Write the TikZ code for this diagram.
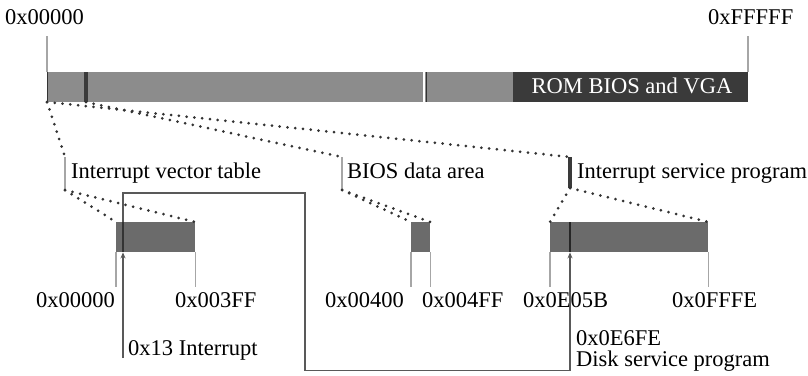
\documentclass[tikz,border=0pt]{standalone}
\usepackage{fontspec}
\setmainfont{Liberation Serif}
\usetikzlibrary{arrows.meta}
\definecolor{bargray}{HTML}{8C8C8C}
\definecolor{romgray}{HTML}{3A3A3A}
\definecolor{boxgray}{HTML}{6B6B6B}

\begin{document}
\begin{tikzpicture}[x=1pt, y=-1pt, font=\fontsize{22.5}{26}\selectfont,
  dots/.style={draw=black!80, line width=3pt, line cap=round, dash pattern=on 0pt off 7.8pt},
  tick/.style={draw=black!35, line width=1.4pt},
  link/.style={draw=black!65, line width=1.3pt},
  lbl/.style={inner sep=0pt, anchor=base west},
  blk/.style={inner sep=0pt, anchor=north west, minimum height=30pt}]
\useasboundingbox (0,0) rectangle (808,375);

% memory map
\node[blk, fill=bargray, minimum width=701pt] (mem) at (47,72) {};
\node[blk, fill=romgray, minimum width=235pt] (rom) at (513,72) {};
\node[inner sep=0pt, anchor=base, text=white] (romtext) at (632,93) {ROM BIOS and VGA};
\draw[draw=black!80, line width=1pt] (47,72) -- (47,102);
\draw[draw=romgray, line width=4pt] (86,72) -- (86,102);
\draw[draw=white, line width=2pt] (424,72) -- (424,102);
\draw[draw=black!80, line width=1pt] (426.5,72) -- (426.5,102);
\draw[tick] (47,36) -- (47,72);
\draw[tick] (748,36) -- (748,72);
\node[lbl] (lo) at (5,24) {0x00000};
\node[lbl] (hi) at (708,24) {0xFFFFF};

% regions
\node[blk, fill=boxgray, minimum width=79pt] (ivt) at (116,222) {};
\node[blk, fill=boxgray, minimum width=19pt] (bda) at (411,222) {};
\node[blk, fill=boxgray, minimum width=158pt] (isp) at (550,222) {};

\coordinate (ivttop) at (65,157);
\coordinate (ivtbot) at (65,190);
\coordinate (bdatop) at (342,157);
\coordinate (bdabot) at (342,190);
\coordinate (isptop) at (570,157);
\coordinate (ispbot) at (570,188);
\draw[tick] (ivttop) -- (ivtbot);
\draw[tick] (bdatop) -- (bdabot);
\draw[draw=romgray, line width=3.5pt] (isptop) -- (ispbot);
\node[lbl] (ivtlbl) at (71,178) {Interrupt vector table};
\node[lbl] (bdalbl) at (347,178) {BIOS data area};
\node[lbl] (isplbl) at (577,178) {Interrupt service program};

\draw[dots] (47,102) -- (ivttop);
\draw[dots] (86,102) -- (bdatop);
\draw[dots] (47,102) -- (isptop);
\draw[dots] (ivtbot) -- (ivt.north west);
\draw[dots] (ivtbot) -- (ivt.north east);
\draw[dots] (bdabot) -- (bda.north west);
\draw[dots] (bdabot) -- (bda.north east);
\draw[dots] (ispbot) -- (isp.north west);
\draw[dots] (ispbot) -- (isp.north east);

% addresses
\draw[tick] (ivt.south west) -- ++(0,35);
\draw[tick] (ivt.south east) -- ++(0,35);
\draw[tick] (bda.south west) -- ++(0,35);
\draw[tick] (bda.south east) -- ++(0,35);
\draw[tick] (isp.south west) -- ++(0,35);
\draw[tick] (isp.south east) -- ++(0,35);
\node[inner sep=0pt, anchor=base east] (a0) at (115,307) {0x00000};
\node[lbl] (a1) at (175,307) {0x003FF};
\node[inner sep=0pt, anchor=base east] (a2) at (404,307) {0x00400};
\node[lbl] (a3) at (422,307) {0x004FF};
\node[lbl] (a4) at (523,307) {0x0E05B};
\node[lbl] (a5) at (672,307) {0x0FFFE};

% interrupt 0x13
\coordinate (vec) at (123,222);
\coordinate (disk) at (570,222);
\coordinate (int) at (123,358);
\draw[draw=black!80, line width=1.3pt] (vec) -- ++(0,30);
\draw[draw=black!85, line width=2.5pt] (disk) -- ++(0,30);
\draw[link, -{Stealth[length=6pt, width=5pt]}] (int) -- (ivt.south -| vec);
\draw[link, -{Stealth[length=6pt, width=5pt]}] (vec) -- (123,193) -- (305,193) -- (305,370.5) -- (570,370.5) -- (isp.south -| disk);
\node[lbl] (intlbl) at (128,355) {0x13 Interrupt};
\node[lbl] (disklbl) at (576,345) {0x0E6FE};
\node[lbl] (disklbl2) at (576,366) {Disk service program};
\end{tikzpicture}
\end{document}
